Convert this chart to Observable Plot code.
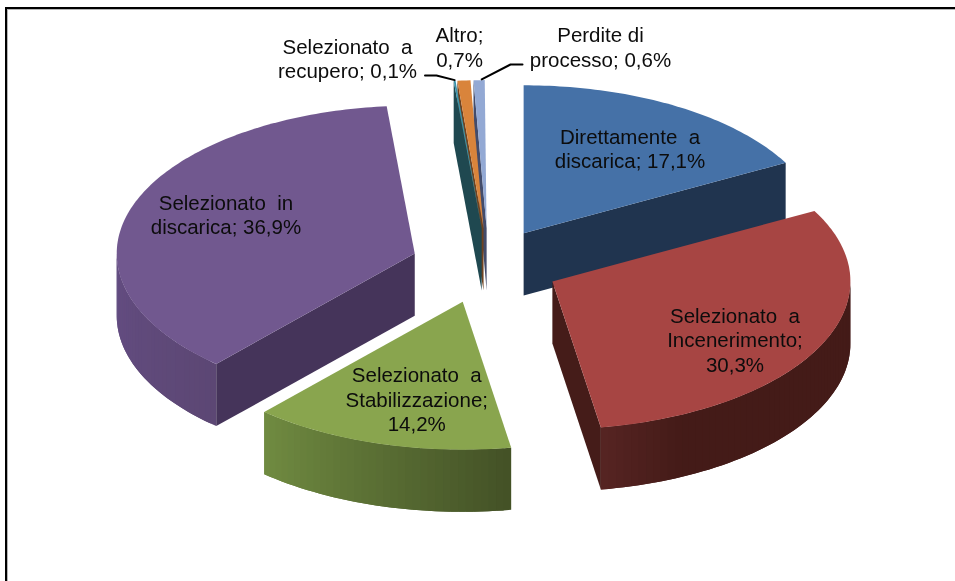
<!DOCTYPE html>
<html>
<head>
<meta charset="utf-8">
<script src="https://cdn.jsdelivr.net/npm/d3@7"></script>
<script src="https://cdn.jsdelivr.net/npm/@observablehq/plot@0.6"></script>
<style>
html,body{margin:0;padding:0;background:#fff;overflow:hidden}
#page{position:relative;width:955px;height:581px}
#frame{position:absolute;left:5px;top:7px;right:0;bottom:-4px;border-top:2px solid #000;border-left:2px solid #000;box-shadow:inset 1px 1px 0 #b5b5b5}
#chart{position:absolute;left:0;top:0}
#chart svg{display:block;background:transparent;filter:blur(.4px)}
#chart text{white-space:pre}
</style>
</head>
<body>
<div id="page"><div id="frame"></div><div id="chart"></div></div>
<script>
// Data
const names = ["Direttamente  a\ndiscarica", "Selezionato  a\nIncenerimento", "Selezionato  a\nStabilizzazione", "Selezionato  in\ndiscarica", "Selezionato  a\nrecupero", "Altro", "Perdite di\nprocesso"];
const labelSep = [";\u00a0", ";\n", ";\n", ";\u00a0", ";\u00a0", ";\n", ";\u00a0"];
const shares = [17.1, 30.3, 14.2, 36.9, 0.1, 0.7, 0.6];

// Styles
const topColors = ["#4571a7", "#a74543", "#89a54e", "#71588f", "#3a93ab", "#d9843b", "#93a9d4"];
const cutColors = ["#20344f", "#451c19", "#435126", "#45345a", "#1f4850", "#6f4320", "#434c6b"];
const wallStart = ["#20344f", "#441b18", "#435126", "#5c4774", "#1f4850", "#6f4320", "#434c6b"];
const wallEnd   = ["#20344f", "#562423", "#708b41", "#644d82", "#1f4850", "#6f4320", "#434c6b"];
const wallHold  = [0, 0.8, 0, 0, 0, 0, 0];
const paintOrder = [6, 5, 4, 0, 3, 2, 1];

// Model geometry: the pie has radius 1 in its own coordinates; the scales flatten it
const explode = 0.25, depth = 0.42;
const pxPerX = 298, pxPerY = 148, cxPx = 485, cyPx = 264.6;
const xDomain = [-cxPx / pxPerX, (955 - cxPx) / pxPerX];
const yDomain = [(cyPx - 581) / pxPerY, cyPx / pxPerY];
const nudgeX = [0, 0, -2 / pxPerX, 0, 0.01, 0.01, 0.01];
const nudgeY = [0, 0, -1 / pxPerY, 0, 0, 0, 0];
const rad = d => d * Math.PI / 180;

let acc = 0;
const slices = shares.map((v, i) => {
  const a0 = acc * 3.6; acc += v; const a1 = acc * 3.6, mid = (a0 + a1) / 2;
  return {i, a0, a1, mid,
    ax: explode * Math.sin(rad(mid)) + nudgeX[i],
    ay: explode * Math.cos(rad(mid)) + nudgeY[i]};
});
const rim = (s, a, drop = 0) => ({x: s.ax + Math.sin(rad(a)), y: s.ay + Math.cos(rad(a)) - drop});
const steps = (a0, a1, n) => d3.range(n + 1).map(k => a0 + (a1 - a0) * k / n);

const faces = [];   // flat fills: {id, x, y, c}
const addFace = (id, c, pts) => pts.forEach(p => faces.push({id, c, x: p.x, y: p.y}));
paintOrder.forEach(i => {
  const s = slices[i];
  const apex = {x: s.ax, y: s.ay}, apexLow = {x: s.ax, y: s.ay - depth};
  // Outer wall, banded into overlapping strips for the gradient
  const w0 = Math.max(s.a0, 90), w1 = Math.min(s.a1, 270);
  if (w1 > w0) {
    const n = Math.ceil((w1 - w0) / 1.5);
    const col = d3.interpolateRgb(wallStart[i], wallEnd[i]);
    const as = steps(w0, w1, n);
    d3.range(n).forEach(k => {
      const next = as[Math.min(k + 2, n)];
      const t = Math.max(0, ((k + 0.5) / n - wallHold[i]) / (1 - wallHold[i]));
      addFace(`wall${i}-${k}`, col(t),
        [rim(s, as[k]), ...steps(as[k], next, 2).slice(1).map(a => rim(s, a)),
         ...steps(next, as[k], 2).map(a => rim(s, a, depth))]);
    });
  }
  // Radial cut faces seen from the front
  if (Math.sin(rad(s.a1)) > 0) addFace(`cutE${i}`, cutColors[i], [apex, rim(s, s.a1), rim(s, s.a1, depth), apexLow]);
  if (Math.sin(rad(s.a0)) < 0) addFace(`cutS${i}`, cutColors[i], [apex, rim(s, s.a0), rim(s, s.a0, depth), apexLow]);
  // Top face
  addFace(`top${i}`, topColors[i], [apex, ...steps(s.a0, s.a1, Math.max(2, Math.ceil(s.a1 - s.a0))).map(a => rim(s, a))]);
});

// Label placement: polar offsets from each slice apex, in pie radii
const labelR    = [0.678, 0.728, 0.675, 0.687];
const labelTurn = [1, 6.6, -3, 4.6];
const labels = slices.map((s, i) => {
  const text = `${names[i]}${labelSep[i]}${String(shares[i]).replace(".", ",")}%`;
  if (i < 4) {
    const a = s.mid + labelTurn[i];
    return {text, x: s.ax + labelR[i] * Math.sin(rad(a)), y: s.ay + labelR[i] * Math.cos(rad(a))};
  }
  return {text, i};
});
// Outside labels sit above the pie, in pie units relative to the centre
const toX = px => (px - cxPx) / pxPerX, toY = py => (cyPx - py) / pxPerY;
Object.assign(labels[4], {x: toX(347), y: toY(57.5)});
Object.assign(labels[5], {x: toX(459), y: toY(46)});
Object.assign(labels[6], {x: toX(600), y: toY(46)});

const leaders = [
  {id: "a", x: toX(424.5), y: toY(75)}, {id: "a", x: toX(436), y: toY(75)}, {id: "a", ...rim(slices[4], slices[4].a0 + 0.2, -0.005)},
  {id: "b", x: toX(522), y: toY(64)}, {id: "b", x: toX(510), y: toY(64)}, {id: "b", ...rim(slices[6], slices[6].mid + 0.5, -0.005)}
];

const chart = Plot.plot({
  width: 955, height: 581, margin: 0,
  style: {background: "transparent", fontFamily: "'Liberation Sans', Arial, sans-serif"},
  x: {domain: xDomain, axis: null},
  y: {domain: yDomain, axis: null},
  marks: [
    Plot.line(faces, {x: "x", y: "y", z: "id", fill: "c", stroke: "none", curve: "linear-closed"}),
    Plot.line(leaders, {x: "x", y: "y", z: "id", stroke: "#000", strokeWidth: 2, curve: "linear"}),
    Plot.text(labels, {x: "x", y: "y", text: "text", fontSize: 20.5, lineHeight: 1.2, fill: "#0c0c0c", textAnchor: "middle", lineAnchor: "middle"})
  ]
});
document.getElementById("chart").appendChild(chart);
</script>
</body>
</html>
